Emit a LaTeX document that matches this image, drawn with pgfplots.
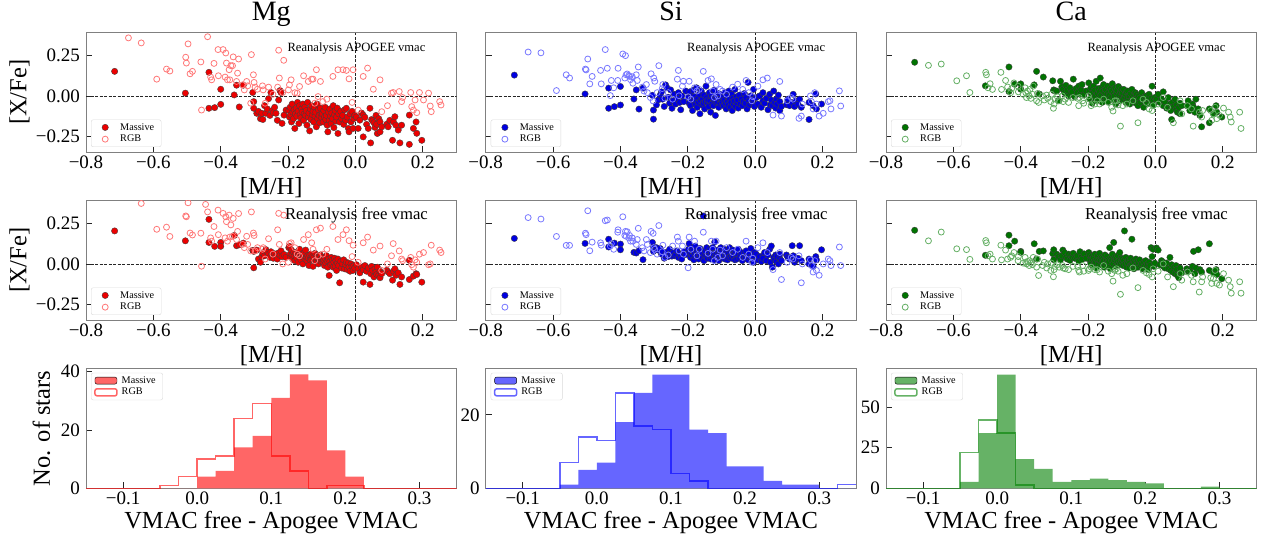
\documentclass[border=0pt]{standalone}
\usepackage{pgfplots}
\pgfplotsset{compat=1.18}
\usepackage{pgfplotstable}
\usepackage{fontspec}
\setmainfont{Liberation Serif}
\newcommand\ticksz{\fontsize{19pt}{22pt}\selectfont}
\newcommand\labsz{\fontsize{24.5pt}{28pt}\selectfont}
\newcommand\titsz{\fontsize{28pt}{32pt}\selectfont}
\newcommand\legsz{\fontsize{10.2pt}{12pt}\selectfont}
\newcommand\annA{\fontsize{12.6pt}{15pt}\selectfont}
\newcommand\annB{\fontsize{16.7pt}{20pt}\selectfont}
\definecolor{mgM}{RGB}{235,0,0}
\definecolor{siM}{RGB}{0,0,225}
\definecolor{caM}{RGB}{0,115,0}
\definecolor{mgR}{RGB}{255,120,120}
\definecolor{siR}{RGB}{120,120,255}
\definecolor{caR}{RGB}{100,175,100}
\definecolor{mgF}{RGB}{255,102,102}
\definecolor{siF}{RGB}{102,102,255}
\definecolor{caF}{RGB}{102,178,102}
\definecolor{caL}{RGB}{0,128,0}

\pgfplotstableread{
x mg1 si1 ca1 mg2 si2 ca2
-0.715 0.151 0.128 0.207 0.203 0.157 0.207
-0.505 0.017 0.012 0.062 0.142 0.126 0.053
-0.435 0.145 0.048 0.178 0.274 0.152 0.177
-0.435 -0.076 -0.076 0.027 0.132 0.104 0.112
-0.418 -0.072 -0.066 0.072 0.108 0.128 0.140
-0.400 0.041 0.058 0.074 0.132 0.122 0.077
-0.400 -0.052 -0.056 0.041 0.108 0.087 0.071
-0.360 0.006 -0.019 0.068 0.175 0.071 0.124
-0.353 0.066 0.037 0.151 0.112 0.067 0.030
-0.345 -0.068 -0.081 0.012 0.118 0.081 0.077
-0.333 0.066 0.048 0.116 0.128 0.026 0.080
-0.305 0.021 0.004 0.093 0.083 0.132 0.063
-0.302 -0.035 -0.143 0.037 -0.024 0.104 0.087
-0.302 -0.076 -0.087 0.033 0.077 0.077 0.026
-0.293 -0.107 -0.055 0.030 0.085 0.100 0.060
-0.288 -0.095 -0.025 -0.030 0.030 0.085 0.045
-0.282 -0.140 0.005 0.090 0.010 0.095 0.025
-0.278 -0.107 0.025 0.055 0.045 0.060 0.050
-0.275 -0.145 -0.020 0.040 0.065 0.075 0.085
-0.270 -0.060 -0.065 0.020 0.050 0.035 0.070
-0.266 -0.107 0.068 0.065 0.088 0.055 0.040
-0.262 -0.080 0.050 0.035 0.070 0.072 0.030
-0.258 -0.017 -0.008 0.000 0.060 0.045 0.060
-0.254 -0.120 -0.045 0.050 0.040 0.090 0.022
-0.251 0.021 0.037 0.015 0.075 0.062 0.055
-0.247 -0.090 -0.076 0.025 0.055 0.048 0.040
-0.244 -0.103 -0.030 0.103 0.035 0.068 0.065
-0.240 -0.070 0.010 -0.005 0.062 0.050 0.035
-0.236 -0.107 -0.050 0.045 0.048 0.058 0.045
-0.232 -0.150 -0.015 0.020 0.030 0.080 0.050
-0.228 -0.025 0.020 0.060 0.068 0.040 0.018
-0.224 0.033 -0.040 0.010 0.052 0.062 0.075
-0.221 0.021 -0.085 0.038 0.080 0.052 0.040
-0.218 -0.169 0.000 0.070 0.045 0.030 0.028
-0.212 -0.118 -0.035 0.008 0.058 0.075 0.062
-0.206 -0.087 0.030 0.030 0.040 0.058 0.035
-0.198 -0.090 -0.010 0.080 0.100 0.090 0.070
-0.196 -0.130 -0.045 0.030 0.108 0.125 0.055
-0.194 -0.070 0.025 -0.020 0.060 0.070 0.020
-0.192 -0.115 -0.060 0.050 0.040 0.040 0.000
-0.190 -0.160 -0.020 0.010 0.085 0.060 0.045
-0.188 -0.050 0.000 -0.045 0.055 0.100 0.030
-0.186 -0.100 -0.090 0.020 0.030 0.050 -0.010
-0.184 -0.140 0.035 0.060 0.070 0.080 0.040
-0.182 -0.085 -0.030 -0.010 0.050 0.025 0.015
-0.180 -0.200 -0.005 0.035 0.020 0.065 0.060
-0.178 -0.110 -0.050 0.000 0.065 0.110 0.010
-0.176 -0.075 -0.025 0.090 0.045 0.045 -0.025
-0.174 -0.125 0.050 -0.030 0.035 0.070 0.030
-0.172 -0.040 -0.070 0.015 0.075 0.055 0.050
-0.170 -0.095 -0.015 0.045 0.010 0.085 0.000
-0.168 -0.170 -0.040 -0.015 0.055 0.030 0.025
-0.166 -0.060 0.010 0.025 0.090 0.060 0.065
-0.164 -0.115 -0.110 0.110 0.040 0.095 0.020
-0.162 -0.135 -0.030 0.005 0.025 0.050 -0.005
-0.160 -0.080 0.030 0.050 0.060 0.075 0.040
-0.158 -0.100 -0.055 -0.040 0.045 0.040 0.010
-0.156 -0.050 -0.020 0.030 0.000 0.065 0.035
-0.154 -0.150 -0.045 0.070 0.050 0.295 0.020
-0.152 -0.110 0.005 -0.005 0.070 0.020 -0.020
-0.150 -0.070 -0.080 0.020 0.030 0.055 0.055
-0.148 -0.120 -0.035 0.040 0.085 0.080 0.005
-0.146 -0.090 0.060 -0.020 0.040 0.045 0.030
-0.144 -0.180 -0.010 0.010 0.020 0.100 0.045
-0.142 -0.040 -0.040 0.060 0.050 0.035 -0.010
-0.140 -0.130 -0.025 -0.035 0.035 0.060 0.025
-0.138 -0.105 -0.065 0.025 -0.010 0.075 0.015
-0.136 -0.215 0.020 0.005 0.055 0.050 0.100
-0.134 -0.080 -0.030 0.045 0.025 0.090 -0.030
-0.132 -0.145 -0.100 -0.010 0.060 0.030 0.035
-0.130 -0.060 0.000 0.030 0.030 0.065 0.020
-0.128 -0.115 -0.050 0.075 0.045 0.045 0.060
-0.126 -0.095 -0.015 -0.025 -0.015 0.100 0.000
-0.124 -0.160 -0.060 0.015 0.040 0.060 0.132
-0.122 -0.070 0.035 0.000 0.020 0.025 0.025
-0.120 -0.125 -0.025 0.050 0.065 0.135 0.040
-0.118 -0.100 -0.120 -0.050 0.030 0.050 -0.015
-0.116 -0.190 -0.040 0.020 0.010 0.070 0.030
-0.114 -0.050 -0.005 0.035 0.050 0.040 0.010
-0.112 -0.140 -0.035 -0.010 0.035 0.085 0.050
-0.110 -0.085 0.015 0.058 0.000 0.060 -0.005
-0.108 -0.120 -0.070 0.005 0.045 0.020 0.020
-0.106 -0.165 -0.020 -0.030 0.020 0.075 0.070
-0.104 -0.075 -0.045 0.025 0.055 0.050 0.000
-0.102 -0.110 0.010 0.040 0.015 0.100 0.035
-0.100 -0.135 -0.030 -0.005 0.030 0.035 0.015
-0.098 -0.110 -0.040 0.020 0.040 0.070 0.030
-0.096 -0.160 -0.010 -0.020 0.010 0.040 -0.010
-0.094 -0.090 -0.060 0.040 0.025 0.055 0.020
-0.092 -0.130 -0.025 -0.005 -0.010 0.090 0.203
-0.090 -0.070 0.020 0.010 0.035 0.030 0.000
-0.088 -0.145 -0.045 -0.040 0.005 0.060 0.040
-0.086 -0.120 -0.080 0.025 0.050 0.045 -0.020
-0.084 -0.180 0.000 -0.015 0.020 0.080 0.015
-0.082 -0.221 -0.035 0.030 -0.020 0.025 0.005
-0.080 -0.100 -0.055 -0.030 0.030 0.060 0.025
-0.078 -0.150 0.030 0.000 -0.071 0.040 -0.025
-0.076 -0.080 -0.020 -0.050 0.015 0.100 0.010
-0.074 -0.125 -0.070 0.015 -0.005 0.050 0.035
-0.072 -0.170 -0.040 -0.025 0.040 0.070 -0.005
-0.070 -0.105 0.010 0.040 0.000 0.035 0.152
-0.068 -0.140 -0.090 -0.010 0.025 0.055 0.000
-0.066 -0.060 -0.015 -0.035 -0.020 0.085 0.020
-0.064 -0.195 -0.050 0.005 0.010 0.045 -0.030
-0.062 -0.115 -0.030 -0.020 0.035 0.065 0.010
-0.060 -0.090 0.040 0.020 -0.015 0.025 -0.015
-0.058 -0.155 -0.065 -0.045 0.020 0.075 0.030
-0.056 -0.130 -0.005 0.010 -0.040 0.050 -0.005
-0.054 -0.075 -0.040 -0.030 0.005 0.030 0.015
-0.052 -0.231 -0.025 -0.060 0.030 0.060 -0.020
-0.050 -0.110 -0.075 0.000 -0.010 0.090 0.005
-0.047 -0.160 0.005 -0.015 -0.116 0.040 0.025
-0.044 -0.095 -0.050 -0.040 0.015 0.055 -0.010
-0.041 -0.140 -0.020 0.020 -0.025 0.070 0.000
-0.038 -0.120 -0.060 -0.025 0.000 0.020 -0.030
-0.035 -0.175 -0.035 -0.070 0.025 0.045 0.010
-0.032 -0.085 0.015 -0.005 -0.030 0.065 -0.015
-0.029 -0.150 -0.045 -0.035 -0.005 0.035 0.020
-0.027 -0.076 -0.010 0.000 0.010 0.080 -0.020
-0.024 -0.130 -0.080 -0.050 -0.035 0.050 0.000
-0.021 -0.200 0.083 -0.020 0.005 0.025 -0.035
-0.019 -0.221 -0.030 0.010 -0.020 0.060 0.010
-0.016 -0.110 -0.055 -0.040 -0.045 0.040 -0.010
-0.013 -0.160 0.000 -0.015 0.000 0.095 0.100
-0.010 -0.095 -0.040 0.060 -0.015 0.030 0.045
-0.007 -0.200 -0.020 -0.030 -0.040 0.050 0.090
-0.005 -0.140 0.040 -0.055 -0.010 0.010 -0.015
-0.002 -0.120 -0.065 -0.010 -0.025 0.070 0.005
0.003 -0.130 -0.010 -0.020 -0.005 0.060 0.098
0.008 -0.200 -0.050 0.010 -0.030 0.025 0.085
0.013 -0.149 0.000 -0.040 -0.055 0.045 -0.005
0.018 -0.105 -0.070 -0.020 -0.020 0.015 0.020
0.023 -0.118 -0.030 0.025 -0.112 0.050 -0.015
0.023 -0.252 0.020 -0.060 -0.035 0.035 0.010
0.028 -0.132 -0.045 -0.035 -0.010 0.070 -0.025
0.033 -0.175 -0.015 -0.075 -0.045 0.020 0.005
0.038 -0.200 -0.085 -0.010 -0.025 0.055 -0.030
0.043 -0.076 0.010 -0.050 -0.126 0.090 0.040
0.045 -0.289 -0.055 -0.090 -0.060 0.010 -0.040
0.048 -0.145 -0.025 -0.145 -0.015 0.110 -0.005
0.051 -0.153 -0.060 -0.040 -0.040 -0.020 -0.050
0.055 -0.165 0.030 -0.065 -0.080 0.040 -0.020
0.058 -0.194 -0.040 -0.020 -0.030 0.025 -0.060
0.061 -0.120 -0.075 -0.085 -0.050 0.055 -0.010
0.063 -0.174 -0.020 -0.055 -0.065 0.015 -0.035
0.065 -0.231 -0.050 -0.100 -0.020 0.045 -0.070
0.069 -0.140 0.005 -0.070 -0.070 0.000 -0.085
0.073 -0.159 -0.090 -0.045 -0.045 0.035 -0.045
0.073 -0.221 -0.035 -0.110 -0.085 0.060 -0.025
0.078 -0.190 -0.065 -0.060 -0.060 0.020 -0.055
0.093 -0.174 -0.054 -0.060 -0.039 0.055 -0.030
0.097 -0.190 -0.020 -0.030 -0.050 0.040 -0.045
0.102 -0.150 -0.060 -0.090 -0.060 0.030 -0.040
0.110 -0.273 -0.040 -0.050 -0.100 0.112 -0.015
0.113 -0.160 0.010 -0.070 -0.045 0.050 0.077
0.117 -0.128 -0.065 -0.100 -0.030 0.010 -0.060
0.120 -0.180 -0.030 -0.020 -0.070 0.025 -0.025
0.127 -0.210 -0.050 -0.080 -0.055 0.035 0.087
0.132 -0.289 -0.020 -0.120 -0.126 0.112 -0.035
0.137 -0.180 -0.070 -0.190 -0.080 0.020 -0.050
0.160 -0.118 -0.145 -0.165 0.022 0.030 0.124
0.160 -0.298 -0.040 -0.080 -0.096 0.000 -0.040
0.172 -0.200 -0.060 -0.110 -0.075 -0.014 -0.055
0.180 -0.160 0.012 -0.060 -0.060 0.045 -0.035
0.182 -0.230 -0.080 -0.100 -0.065 0.025 -0.065
0.197 -0.273 -0.050 -0.130 -0.112 0.087 -0.091
}\massive

\pgfplotstableread{
x mg1 si1 ca1 mg2 si2 ca2
-0.674 0.357 0.270 0.188 0.400 0.285 0.142
-0.636 0.326 0.265 0.196 0.372 0.276 0.196
-0.590 0.103 0.033 0.093 0.213 0.169 0.093
-0.561 0.165 0.130 0.124 0.226 0.114 0.088
-0.551 0.153 0.110 0.021 0.169 0.114 0.028
-0.504 0.238 0.165 0.145 0.295 0.189 0.144
-0.502 0.202 0.160 0.130 0.290 0.180 0.130
-0.497 0.320 0.227 0.050 0.376 0.327 0.050
-0.491 0.136 0.074 0.075 0.190 0.081 0.060
-0.484 0.151 0.120 0.040 0.178 0.134 0.030
-0.459 0.209 0.157 0.145 0.189 0.130 0.115
-0.457 -0.087 0.074 0.040 -0.014 0.115 0.025
-0.445 0.393 0.285 0.095 0.366 0.266 0.085
-0.439 0.364 0.170 0.055 0.320 0.270 0.030
-0.430 0.116 0.002 0.020 0.160 0.110 0.040
-0.427 0.099 0.095 0.045 0.140 0.125 0.050
-0.407 0.124 0.170 0.025 0.180 0.210 0.045
-0.408 0.285 0.095 0.060 0.331 0.195 0.020
-0.393 0.285 0.258 0.010 0.311 0.290 0.005
-0.387 0.116 0.110 0.050 0.160 0.175 0.040
-0.385 0.264 0.248 0.020 0.290 0.200 0.010
-0.383 0.202 0.130 -0.010 0.260 0.170 0.000
-0.380 0.099 0.135 0.030 0.140 0.198 0.015
-0.375 0.161 0.125 0.000 0.300 0.160 -0.010
-0.373 0.099 0.120 0.040 0.165 0.175 0.020
-0.370 0.186 0.100 -0.015 0.240 0.140 0.005
-0.365 0.186 0.118 0.010 0.170 0.160 -0.005
-0.363 0.240 0.078 0.060 0.280 0.140 0.040
-0.353 0.089 0.130 -0.030 0.150 0.120 -0.020
-0.347 0.227 0.178 -0.040 0.310 0.219 -0.071
-0.335 0.068 0.054 0.000 0.120 0.100 -0.010
-0.330 0.037 0.030 -0.025 0.100 0.080 0.010
-0.323 0.089 0.070 0.005 0.170 0.150 -0.025
-0.320 0.062 0.020 -0.015 0.120 0.120 0.000
-0.311 -0.045 -0.010 -0.035 0.080 0.070 -0.040
-0.309 0.254 0.136 0.010 0.320 0.200 0.005
-0.303 0.130 -0.031 -0.076 0.190 0.188 -0.079
-0.301 0.083 0.110 -0.050 0.175 0.100 -0.035
-0.298 0.054 0.090 -0.020 0.080 0.090 -0.015
-0.291 0.041 0.020 -0.005 0.100 0.060 -0.005
-0.286 0.393 0.186 -0.030 0.400 0.236 -0.020
-0.276 0.062 0.045 0.000 0.090 0.075 -0.010
-0.274 0.037 0.070 -0.035 0.100 0.115 -0.025
-0.268 -0.045 -0.014 -0.020 0.030 0.040 -0.030
-0.258 0.054 0.020 -0.040 0.155 0.055 -0.035
-0.231 0.054 0.103 -0.015 0.210 0.165 -0.015
-0.228 0.281 0.157 -0.060 0.311 0.140 -0.040
-0.226 0.110 0.001 -0.010 0.120 0.080 -0.050
-0.216 0.021 0.060 -0.030 0.000 0.110 -0.010
-0.213 0.219 0.090 -0.045 0.300 0.060 -0.045
-0.196 0.068 0.090 -0.020 0.125 0.165 -0.030
-0.191 0.099 -0.020 -0.060 0.130 0.090 -0.020
-0.199 0.037 -0.005 0.000 0.010 -0.024 -0.040
-0.173 0.017 0.030 -0.030 0.060 0.050 -0.035
-0.166 0.058 0.040 -0.050 0.050 0.090 -0.050
-0.154 0.124 0.151 -0.020 0.150 0.195 -0.010
-0.140 0.089 0.095 -0.040 0.180 0.065 -0.045
-0.130 0.103 0.105 -0.070 0.130 0.140 -0.060
-0.126 0.103 0.030 -0.093 0.090 0.090 -0.106
-0.116 0.161 0.070 -0.030 0.210 0.140 -0.030
-0.111 -0.004 0.000 -0.055 0.050 0.040 -0.045
-0.104 0.089 0.040 -0.186 0.220 0.085 -0.187
-0.067 0.120 0.054 -0.030 0.230 0.070 -0.025
-0.052 0.161 0.072 -0.165 0.150 0.090 -0.146
-0.037 0.161 0.040 -0.020 0.180 0.040 -0.040
-0.027 0.157 0.095 -0.040 0.210 0.140 -0.055
-0.019 0.105 0.020 -0.080 0.143 0.060 -0.065
-0.007 0.161 -0.005 -0.060 0.115 0.035 -0.030
0.008 -0.087 0.060 -0.050 0.010 0.100 -0.045
0.023 0.120 0.099 -0.010 0.130 0.130 0.000
0.036 0.171 0.110 -0.070 0.165 0.070 -0.080
0.053 0.041 -0.118 -0.165 0.085 -0.035 -0.140
0.073 0.099 0.089 -0.030 0.110 0.070 -0.060
0.078 -0.097 -0.124 -0.110 -0.040 -0.096 -0.100
0.107 0.017 -0.010 -0.080 0.050 0.040 -0.070
0.112 0.021 -0.020 -0.186 0.125 0.030 -0.110
0.130 0.027 -0.138 -0.100 0.080 0.050 -0.173
0.137 -0.035 -0.124 -0.130 0.030 -0.116 -0.110
0.164 0.021 0.000 -0.090 0.040 0.025 -0.085
0.167 -0.066 -0.035 -0.150 -0.005 -0.010 -0.120
0.172 -0.087 -0.080 -0.110 -0.020 -0.050 -0.090
0.177 -0.025 0.020 -0.070 0.025 0.020 -0.040
0.190 0.021 -0.124 -0.120 0.060 -0.070 -0.130
0.202 -0.025 -0.107 -0.075 0.070 0.000 -0.060
0.182 -0.103 -0.050 -0.140 0.010 -0.040 -0.120
0.217 0.017 -0.035 -0.100 -0.005 0.030 -0.100
0.222 -0.062 -0.030 -0.130 0.000 0.020 -0.140
0.225 -0.097 -0.080 -0.160 0.115 -0.010 -0.180
0.250 -0.035 0.031 -0.100 0.085 0.104 -0.110
0.254 -0.056 -0.062 -0.200 0.070 -0.010 -0.180
-0.121 -0.045 -0.010 -0.030 0.020 0.020 -0.040
-0.097 -0.035 0.030 -0.060 0.060 0.050 -0.070
-0.085 -0.020 0.010 -0.050 0.090 0.100 -0.060
-0.010 -0.040 -0.030 -0.090 0.045 0.010 -0.080
-0.180 0.020 0.050 -0.050 0.100 0.140 -0.035
-0.245 0.010 -0.020 -0.010 0.060 0.110 -0.015
0.095 -0.060 -0.030 -0.060 0.000 0.010 -0.050
0.140 -0.010 -0.050 -0.090 0.020 0.000 -0.080
-0.420 0.200 0.050 0.080 0.230 0.090 0.070
-0.350 0.140 0.095 0.015 0.200 0.150 0.030
}\rgb

\pgfplotstableread{
x mgM mgR siM siR caM caR
-0.150 0 0 0 0 0 0
-0.125 0 0 0 0 0 0
-0.100 0 0 0 0 0 0
-0.075 0 0 0 0 0 0
-0.050 0 1 1 7 4 22
-0.025 0 4 5 14 34 42
0.000 4 10 7 13 70 34
0.025 6 11 18 26 18 2
0.050 14 24 26 17 12 0
0.075 18 29 31 16 4 0
0.100 31 11 31 4 5 0
0.125 39 6 16 2 6 0
0.150 37 0 15 0 5 0
0.175 13 1 6 0 4 0
0.200 4 1 6 0 3 0
0.225 0 0 2 0 0 0
0.250 0 0 1 0 0 0
0.275 0 0 1 0 1 0
0.300 0 0 0 0 0 0
0.325 0 0 0 1 0 0
0.350 0 0 0 1 0 0
}\hist

\pgfplotsset{
  base/.style={scale only axis, width=370.5pt, height=119.5pt,
    tick pos=left, tick align=inside, major tick length=6pt,
    major tick style={black!85, line width=0.8pt},
    axis line style={black!50, line width=0.8pt},
    clip marker paths=true,
    xticklabel style={font=\ticksz, anchor=base, yshift=-16.5pt},
    yticklabel style={font=\ticksz, anchor=east, inner sep=0pt, xshift=-6pt},
    legend cell align=left,
    legend style={font=\legsz, draw=black!15, rounded corners=2pt, fill=white,
      inner xsep=3pt, inner ysep=2.5pt, row sep=1.5pt,
      nodes={inner xsep=4pt, inner ysep=1pt}},
    title style={font=\titsz, at={(axis description cs:0.5,1.05)}, anchor=base},
    xlabel style={font=\labsz, anchor=base},
    ylabel style={font=\labsz, anchor=base}},
  sc/.style={base, xmin=-0.8, xmax=0.3, ymin=-0.345, ymax=0.39,
    xtick={-0.8,-0.6,-0.4,-0.2,0,0.2},
    xticklabels={−0.8,−0.6,−0.4,−0.2,0.0,0.2},
    ytick={-0.25,0,0.25}, yticklabels={},
    xlabel={[M/H]}, xlabel style={at={(axis description cs:0.5,-0.3515)}},
    legend style={at={(0.0135,0.042)}, anchor=south west}},
  hi/.style={base, xmin=-0.15, xmax=0.35, ymin=0,
    xtick={-0.1,0,0.1,0.2,0.3}, xticklabels={−0.1,0.0,0.1,0.2,0.3},
    xlabel={VMAC free - Apogee VMAC}, xlabel style={at={(axis description cs:0.5,-0.3333)}},
    legend style={at={(0.0135,0.967)}, anchor=north west},
    legend image code/.code={\draw[##1] (0pt,-3.5pt) rectangle (22pt,3.5pt);}},
  mm/.style={only marks, mark=*, mark size=3.2pt, mark options={fill=#1, draw=black!75, line width=0.35pt},
    legend image code/.code={\path[draw=none,fill=none] (0pt,-3pt) (22pt,3pt); \draw[##1] plot coordinates {(11pt,0pt)};}},
  rr/.style={only marks, mark=o, mark size=3pt, mark options={draw=#1, line width=0.8pt},
    legend image code/.code={\path[draw=none,fill=none] (0pt,-3pt) (22pt,3pt); \draw[##1] plot coordinates {(11pt,0pt)};}},
  zl/.style={black!85, line width=0.7pt, dash pattern=on 3pt off 1.5pt, forget plot},
  ylX/.style={ylabel={[X/Fe]}, ylabel style={at={(axis description cs:-0.1606,0.5)}}, yticklabels={−0.25,0.00,0.25}},
}

\begin{document}
\begin{tikzpicture}
\useasboundingbox (0pt,0pt) rectangle (1271pt,-539pt);
% ---------- Row 1 ----------
\begin{axis}[sc, ylX, at={(86pt,-152pt)}, anchor=south west, title={Mg}]
\addplot[zl] coordinates {(-0.8,0) (0.3,0)};
\addplot[zl] coordinates {(0,-0.345) (0,0.39)};
\addplot[mm=mgM] table[x=x,y=mg1]{\massive}; \addlegendentry{Massive}
\addplot[rr=mgR] table[x=x,y=mg1]{\rgb}; \addlegendentry{RGB}
\node[font=\annA, anchor=base] at (axis cs:0.003,0.275) {Reanalysis APOGEE vmac};
\end{axis}
\begin{axis}[sc, at={(485.7pt,-152pt)}, anchor=south west, title={Si}]
\addplot[zl] coordinates {(-0.8,0) (0.3,0)};
\addplot[zl] coordinates {(0,-0.345) (0,0.39)};
\addplot[mm=siM] table[x=x,y=si1]{\massive}; \addlegendentry{Massive}
\addplot[rr=siR] table[x=x,y=si1]{\rgb}; \addlegendentry{RGB}
\node[font=\annA, anchor=base] at (axis cs:0.003,0.275) {Reanalysis APOGEE vmac};
\end{axis}
\begin{axis}[sc, at={(886pt,-152pt)}, anchor=south west, title={Ca}]
\addplot[zl] coordinates {(-0.8,0) (0.3,0)};
\addplot[zl] coordinates {(0,-0.345) (0,0.39)};
\addplot[mm=caM] table[x=x,y=ca1]{\massive}; \addlegendentry{Massive}
\addplot[rr=caR] table[x=x,y=ca1]{\rgb}; \addlegendentry{RGB}
\node[font=\annA, anchor=base] at (axis cs:0.003,0.275) {Reanalysis APOGEE vmac};
\end{axis}
% ---------- Row 2 ----------
\begin{axis}[sc, ylX, at={(86pt,-320pt)}, anchor=south west]
\addplot[zl] coordinates {(-0.8,0) (0.3,0)};
\addplot[zl] coordinates {(0,-0.345) (0,0.39)};
\addplot[mm=mgM] table[x=x,y=mg2]{\massive}; \addlegendentry{Massive}
\addplot[rr=mgR] table[x=x,y=mg2]{\rgb}; \addlegendentry{RGB}
\node[font=\annB, anchor=base] at (axis cs:0.003,0.275) {Reanalysis free vmac};
\end{axis}
\begin{axis}[sc, at={(485.7pt,-320pt)}, anchor=south west]
\addplot[zl] coordinates {(-0.8,0) (0.3,0)};
\addplot[zl] coordinates {(0,-0.345) (0,0.39)};
\addplot[mm=siM] table[x=x,y=si2]{\massive}; \addlegendentry{Massive}
\addplot[rr=siR] table[x=x,y=si2]{\rgb}; \addlegendentry{RGB}
\node[font=\annB, anchor=base] at (axis cs:0.003,0.275) {Reanalysis free vmac};
\end{axis}
\begin{axis}[sc, at={(886pt,-320pt)}, anchor=south west]
\addplot[zl] coordinates {(-0.8,0) (0.3,0)};
\addplot[zl] coordinates {(0,-0.345) (0,0.39)};
\addplot[mm=caM] table[x=x,y=ca2]{\massive}; \addlegendentry{Massive}
\addplot[rr=caR] table[x=x,y=ca2]{\rgb}; \addlegendentry{RGB}
\node[font=\annB, anchor=base] at (axis cs:0.003,0.275) {Reanalysis free vmac};
\end{axis}
% ---------- Row 3 ----------
\begin{axis}[hi, at={(86pt,-488.3pt)}, anchor=south west, ymax=40.95,
  ytick={0,20,40}, yticklabels={0,20,40},
  ylabel={No. of stars}, ylabel style={at={(axis description cs:-0.0972,0.5)}}]
\addplot[const plot, fill=mgF, draw=none] table[x=x,y=mgM]{\hist} \closedcycle; \addlegendentry{Massive}
\addplot[const plot, draw=red, draw opacity=0.6, line width=1.5pt] table[x=x,y=mgR]{\hist}; \addlegendentry{RGB}
\end{axis}
\begin{axis}[hi, at={(485.7pt,-488.3pt)}, anchor=south west, ymax=32.55,
  ytick={0,20}, yticklabels={0,20}]
\addplot[const plot, fill=siF, draw=none] table[x=x,y=siM]{\hist} \closedcycle; \addlegendentry{Massive}
\addplot[const plot, draw=blue, draw opacity=0.6, line width=1.5pt] table[x=x,y=siR]{\hist}; \addlegendentry{RGB}
\end{axis}
\begin{axis}[hi, at={(886pt,-488.3pt)}, anchor=south west, ymax=73.5,
  ytick={0,25,50}, yticklabels={0,25,50}]
\addplot[const plot, fill=caF, draw=none] table[x=x,y=caM]{\hist} \closedcycle; \addlegendentry{Massive}
\addplot[const plot, draw=caL, draw opacity=0.6, line width=1.5pt] table[x=x,y=caR]{\hist}; \addlegendentry{RGB}
\end{axis}
\end{tikzpicture}
\end{document}
